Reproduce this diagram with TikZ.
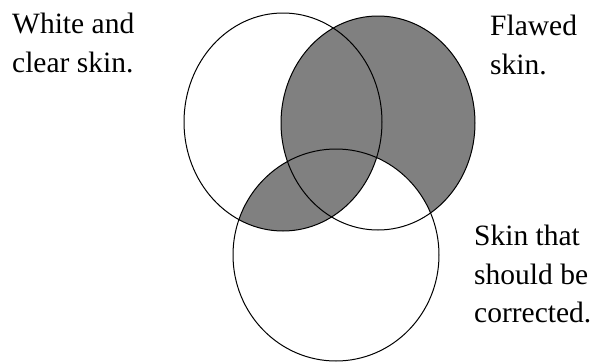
\documentclass[tikz,border=0pt]{standalone}
\usepackage{fontspec}
\setmainfont{Liberation Serif}
\begin{document}
\begin{tikzpicture}[x=1pt,y=-1pt,
  outline/.style={draw=black,line width=1pt},
  label/.style={anchor=north west,align=left,inner sep=0pt,font=\fontsize{29.5}{38.5}\selectfont}]
\useasboundingbox (0,0) rectangle (595,362);
\def\Lc{(283,122) ellipse [x radius=99,y radius=109]}
\def\Rc{(378,123) ellipse [x radius=97,y radius=107]}
\def\Bc{(336,255) ellipse [x radius=103,y radius=106]}
\fill[gray] \Rc;
\fill[white] \Bc;
\begin{scope}
  \clip \Lc;
  \fill[gray] \Bc;
\end{scope}
\draw[outline] \Lc;
\draw[outline] \Rc;
\draw[outline] \Bc;
\node[label] (white) at (12,13) {White and\\clear skin.};
\node[label] (flawed) at (490,15) {Flawed\\skin.};
\node[label] (correct) at (474,225) {Skin that\\should be\\corrected.};
\end{tikzpicture}
\end{document}
